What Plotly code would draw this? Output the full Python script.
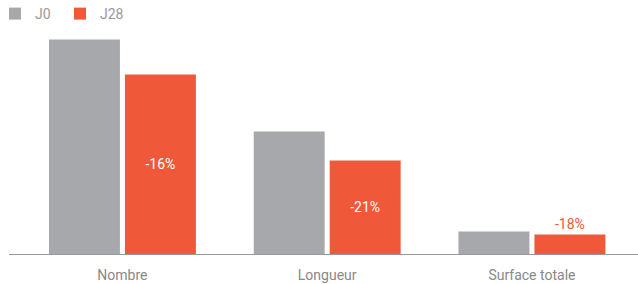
import plotly.graph_objects as go

categories = ["Nombre", "Longueur", "Surface totale"]
j0_values = [214.5, 122.5, 22.5]
j28_values = [179.5, 93.5, 19.5]
change_labels = ["-16%", "-21%", "-18%"]

GRAY = "#a7a8ab"
RED = "#f0583a"

fig = go.Figure()
fig.add_trace(go.Bar(
    x=categories, y=j0_values, name="J0", marker_color=GRAY,
    marker_line_width=0, hoverinfo="skip",
))
fig.add_trace(go.Bar(
    x=categories, y=j28_values, name="J28", marker_color=RED,
    marker_line_width=0, hoverinfo="skip",
    text=change_labels,
    textposition=["inside", "inside", "outside"],
    insidetextanchor="middle",
    textfont=dict(size=14, color=["white", "white", RED], family="Roboto"),
    cliponaxis=False,
))

fig.update_layout(
    width=638, height=284,
    margin=dict(l=9, r=0, t=24, b=30, autoexpand=False),
    paper_bgcolor="white", plot_bgcolor="white",
    barmode="group", bargap=0.258, bargroupgap=0.066,
    font=dict(family="Roboto", size=14, color="#888888"),
    uniformtext=dict(mode="show", minsize=14),
    showlegend=True,
    legend=dict(
        orientation="h", x=-0.0223, xref="paper", y=1.113, yref="paper",
        xanchor="left", yanchor="top",
        font=dict(size=14, color="#999999"),
        entrywidth=20, entrywidthmode="pixels",
        itemclick=False, itemdoubleclick=False,
    ),
    xaxis=dict(
        range=[-0.554, 2.518], showgrid=False, showline=True,
        linecolor="#999999", linewidth=1, ticks="outside", ticklen=8,
        tickcolor="rgba(0,0,0,0)", tickfont=dict(size=14, color="#888888"),
        fixedrange=True,
    ),
    yaxis=dict(
        range=[0, 230], visible=False, showgrid=False, zeroline=False,
        fixedrange=True,
    ),
)

fig.write_html(
    "out.html",
    config={"displayModeBar": False},
    post_script="document.body.style.margin='0';document.body.style.overflow='hidden';",
)
